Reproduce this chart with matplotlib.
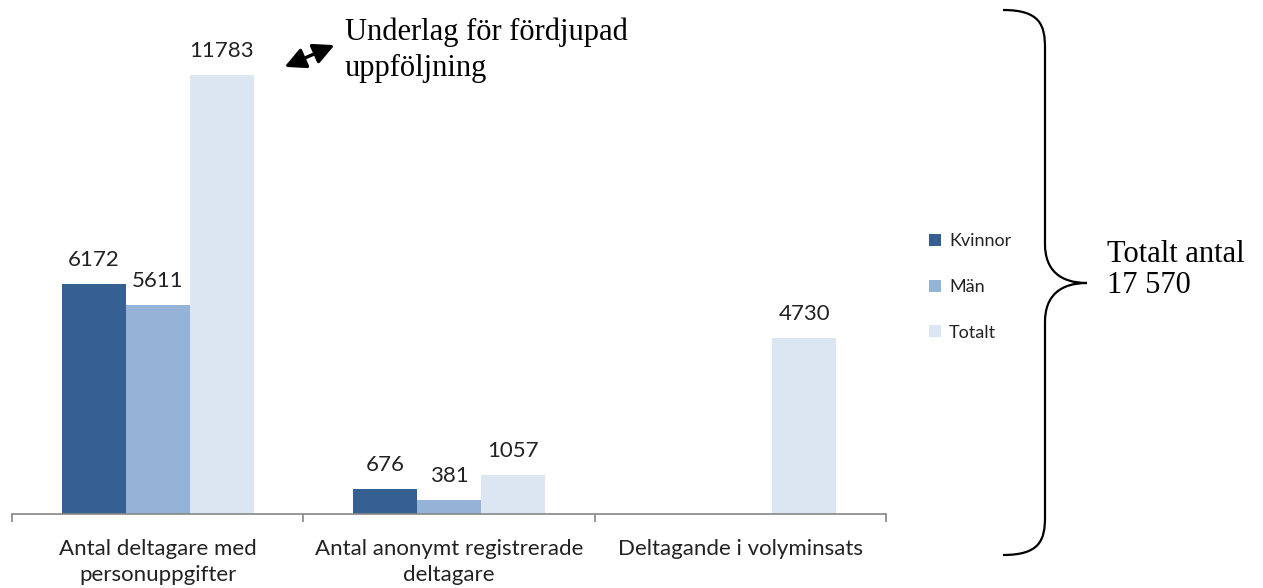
import matplotlib
matplotlib.use("Agg")
import matplotlib.pyplot as plt
from matplotlib.path import Path
from matplotlib.patches import PathPatch, Patch, FancyArrowPatch
import numpy as np

categories = ["Antal deltagare med\npersonuppgifter",
              "Antal anonymt registrerade\ndeltagare",
              "Deltagande i volyminsats"]
series_names = ["Kvinnor", "Män", "Totalt"]
kvinnor = [6172, 676, None]
man = [5611, 381, None]
totalt = [11783, 1057, 4730]
colors = ["#376092", "#95B3D7", "#DCE6F2"]

W, H = 1263, 588
fig = plt.figure(figsize=(W / 100, H / 100), dpi=100)

def fx(px):
    return px / W

def fy(py):
    return 1 - py / H

label_font = "Lato"
serif_font = "Liberation Serif"

ax = fig.add_axes([fx(12), fy(514), fx(886) - fx(12), fy(0) - fy(514)])
ax.set_xlim(-0.5, 2.5)
ax.set_ylim(0, 13800)

bw = 0.22
x = np.arange(len(categories))
for i, (name, vals, c) in enumerate(zip(series_names, [kvinnor, man, totalt], colors)):
    xs = [xi + (i - 1) * bw for xi, v in zip(x, vals) if v is not None]
    vs = [v for v in vals if v is not None]
    ax.bar(xs, vs, width=bw, color=c, label=name, zorder=2)
    for xb, v in zip(xs, vs):
        ax.annotate(str(v), (xb, v), xytext=(0, 10), textcoords="offset points",
                    ha="center", va="bottom", fontsize=16, family=label_font,
                    color="#222222")

for s in ["top", "right", "left"]:
    ax.spines[s].set_visible(False)
ax.spines["bottom"].set_color("#868686")
ax.spines["bottom"].set_linewidth(1.2)
ax.set_yticks([])
ax.set_xticks([-0.5, 0.5, 1.5, 2.5])
ax.set_xticklabels([])
ax.tick_params(axis="x", length=6, color="#868686", width=1.2)
ax.set_xticks(x, minor=True)
ax.set_xticklabels(categories, minor=True, fontsize=16, family=label_font,
                   color="#222222", linespacing=1.4)
ax.tick_params(axis="x", which="minor", length=0, pad=18)

handles = [Patch(facecolor=c, edgecolor="none") for c in colors]
fig.legend(handles, series_names, loc="center left",
           bbox_to_anchor=(fx(913), fy(287)), frameon=False,
           prop={"family": label_font, "size": 13},
           handlelength=0.65, handleheight=0.65, handletextpad=0.45,
           labelspacing=1.65, labelcolor="#222222")

# Brace
verts = [
    (1003, 10), (1040, 10), (1045, 25), (1045, 48),
    (1045, 244),
    (1045, 270), (1060, 283), (1087, 283),
    (1060, 283), (1045, 296), (1045, 322),
    (1045, 517),
    (1045, 540), (1040, 555), (1003, 555),
]
codes = [Path.MOVETO, Path.CURVE4, Path.CURVE4, Path.CURVE4,
         Path.LINETO,
         Path.CURVE4, Path.CURVE4, Path.CURVE4,
         Path.CURVE4, Path.CURVE4, Path.CURVE4,
         Path.LINETO,
         Path.CURVE4, Path.CURVE4, Path.CURVE4]
path = Path([(fx(a), fy(b)) for a, b in verts], codes)
fig.patches.append(PathPatch(path, facecolor="none", edgecolor="black",
                             linewidth=1.6, transform=fig.transFigure))

fig.text(fx(1107), fy(262), "Totalt antal", ha="left", va="baseline",
         fontsize=22, family=serif_font, color="black")
fig.text(fx(1107), fy(293), "17 570", ha="left", va="baseline",
         fontsize=22, family=serif_font, color="black")

fig.text(fx(345), fy(40), "Underlag för fördjupad", ha="left", va="baseline",
         fontsize=22, family=serif_font, color="black")
fig.text(fx(345), fy(76), "uppföljning", ha="left", va="baseline",
         fontsize=22, family=serif_font, color="black")

fig.patches.append(FancyArrowPatch(
    (fx(282), fy(68)), (fx(337), fy(44)), transform=fig.transFigure,
    arrowstyle="<|-|>,head_length=0.9,head_width=0.45", color="black",
    linewidth=2.4, mutation_scale=14))

fig.savefig("out.png", dpi=100)
